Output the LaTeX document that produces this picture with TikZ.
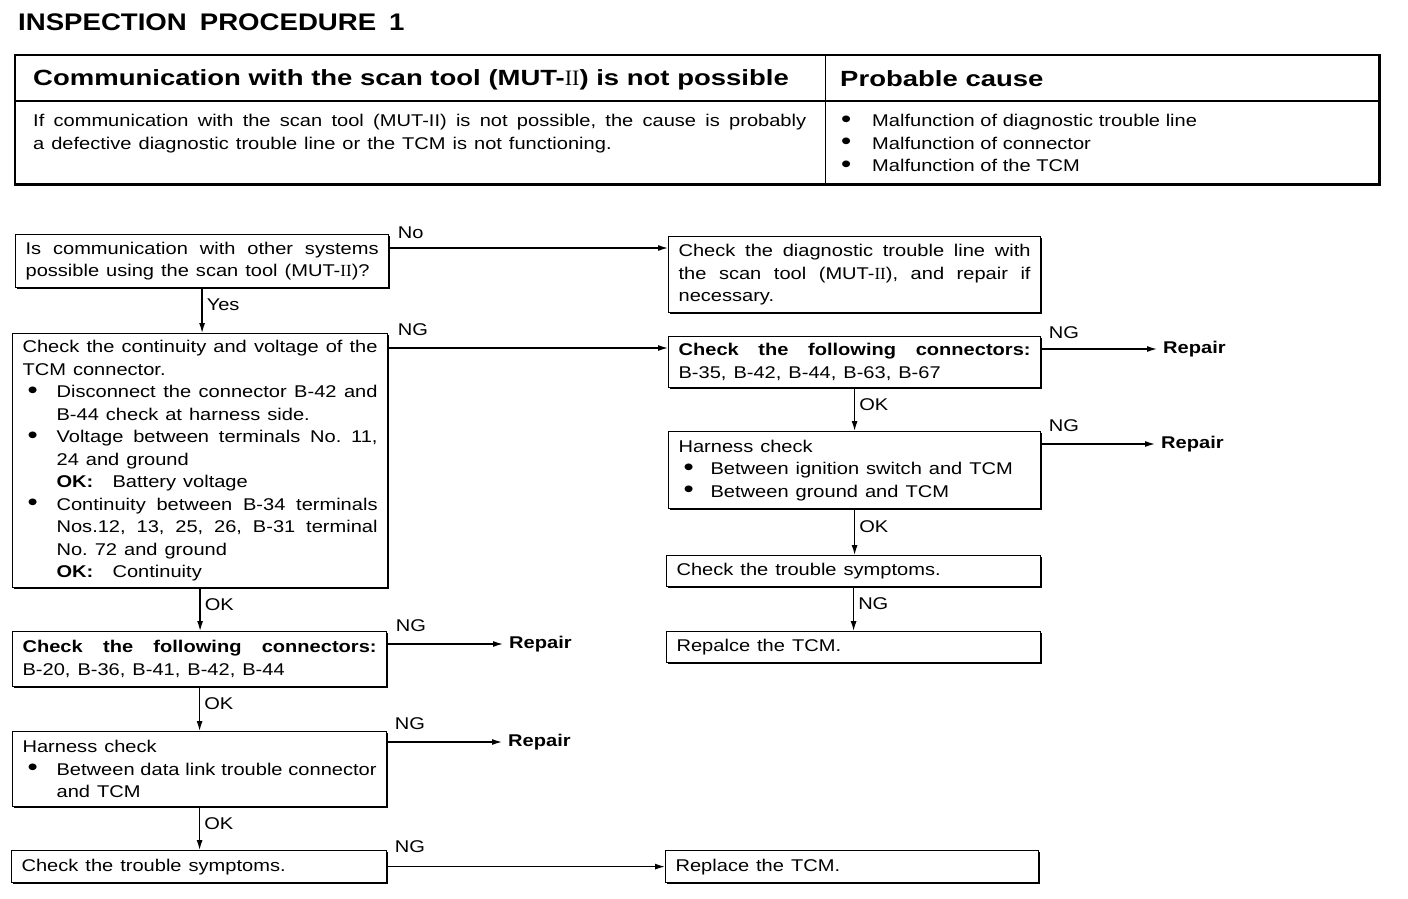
\documentclass[tikz,border=0pt]{standalone}
\usepackage{fontspec}
\setmainfont{Liberation Sans}[FakeStretch=1.18]
\newfontfamily\hdfont{Liberation Sans}[FakeStretch=1.25]
\newfontfamily\ttlfont{Liberation Sans}[FakeStretch=1.15]
\newfontfamily\serfont{Liberation Serif}
\usetikzlibrary{arrows.meta,shadows}
\frenchspacing
\newcommand{\rII}{{\serfont II}}
\newcommand{\bigbul}{\raisebox{-0.5pt}{\scalebox{1.45}{\textbullet}}}
\newcommand{\bodyfont}{\fontsize{17}{22.5}\selectfont\spaceskip=7pt plus 8pt minus 2pt\relax}
\newcommand{\bitem}{\par\noindent\hangindent=34pt\hangafter=1\makebox[34pt][l]{\hspace{5pt}\bigbul}}
\newcommand{\okline}[1]{\par\noindent\hspace*{34pt}\makebox[56pt][l]{\textbf{OK:}}#1}
\tikzset{
  box/.style={draw, line width=1.2pt, fill=white,
    general shadow={fill=black, shadow xshift=1.5pt, shadow yshift=-1.8pt},
    inner xsep=10pt, inner ysep=0pt, align=justify, anchor=north west, font=\bodyfont},
  arr/.style={line width=1.3pt, -{Latex[length=10pt,width=6pt]}},
  lbl/.style={font=\bodyfont, inner sep=0pt},
  rep/.style={font=\bodyfont\bfseries, inner xsep=6pt, inner ysep=0pt, anchor=west},
  tbl/.style={inner sep=0pt, font=\bodyfont}
}
\begin{document}
\begin{tikzpicture}[x=1pt,y=-1pt]
\useasboundingbox (0,0) rectangle (1408,898);

% title
\node[anchor=base west, inner sep=0pt, font=\ttlfont\bfseries\fontsize{24}{28}\selectfont] (title) at (18,30)
  {INSPECTION\hspace{13pt}PROCEDURE\hspace{13pt}1};

% table
\draw[line width=2.2pt] (15,55) rectangle (1380,185);
\draw[line width=3pt] (14,184) -- (1381,184);
\draw[line width=3pt] (1379.5,54) -- (1379.5,185);
\draw[line width=1.2pt] (15,101) -- (1380,101);
\draw[line width=1pt] (825,55) -- (825,185);
\node[anchor=base west, inner sep=0pt, font=\hdfont\bfseries\fontsize{22}{26}\selectfont] (th1) at (33,85)
  {Communication with the scan tool (MUT-{\serfont\mdseries II}) is not possible};
\node[anchor=base west, inner sep=0pt, font=\hdfont\bfseries\fontsize{22}{26}\selectfont] (th2) at (840,86)
  {Probable cause};
\node[tbl, anchor=north west, text width=773pt, align=justify] (tb1) at (33,114)
  {If communication with the scan tool (MUT-II) is not possible, the cause is probably\linebreak a defective diagnostic trouble line or the TCM is not functioning.};
\node[tbl, anchor=north west, text width=530pt, align=left] (tb2) at (840,114)
  {\makebox[32pt][l]{\hspace{1pt}\bigbul}Malfunction of diagnostic trouble line\\
   \makebox[32pt][l]{\hspace{1pt}\bigbul}Malfunction of connector\\
   \makebox[32pt][l]{\hspace{1pt}\bigbul}Malfunction of the TCM};

% left column
\node[box, text width=353pt, minimum height=53pt] (A) at (15,234)
  {Is communication with other systems\linebreak possible using the scan tool (MUT-\rII)?\par};
\node[box, text width=355pt, minimum height=254pt] (B) at (12,333)
  {Check the continuity and voltage of the\linebreak TCM connector.
   \bitem Disconnect the connector B-42 and\linebreak B-44 check at harness side.
   \bitem Voltage between terminals No. 11,\linebreak 24 and ground
   \okline{Battery voltage}
   \bitem Continuity between B-34 terminals\linebreak Nos.12, 13, 25, 26, B-31 terminal\linebreak No. 72 and ground
   \okline{Continuity}\par};
\node[box, text width=354pt, minimum height=55pt] (H) at (12,631)
  {\textbf{Check the following connectors:}\linebreak B-20, B-36, B-41, B-42, B-44\par};
\node[box, text width=354pt, minimum height=75pt] (I) at (12,731)
  {Harness check
   \bitem Between data link trouble connector\linebreak and TCM\par};
\node[box, text width=355pt, minimum height=32pt] (J) at (11,850)
  {Check the trouble symptoms.};

% right column
\node[box, text width=352pt, minimum height=76pt] (C) at (668,236)
  {Check the diagnostic trouble line with\linebreak the scan tool (MUT-\rII), and repair if\linebreak necessary.\par};
\node[box, text width=352pt, minimum height=51pt] (D) at (668,336)
  {\textbf{Check the following connectors:}\linebreak B-35, B-42, B-44, B-63, B-67\par};
\node[box, text width=352pt, minimum height=77pt] (E) at (668,431)
  {Harness check
   \par\noindent\hangindent=32pt\hangafter=1\makebox[32pt][l]{\hspace{5pt}\bigbul}Between ignition switch and TCM
   \par\noindent\hangindent=32pt\hangafter=1\makebox[32pt][l]{\hspace{5pt}\bigbul}Between ground and TCM\par};
\node[box, text width=354pt, minimum height=31pt] (F) at (666,555)
  {Check the trouble symptoms.};
\node[box, text width=354pt, minimum height=31pt] (G) at (666,631)
  {Repalce the TCM.};
\node[box, text width=353pt, minimum height=32pt] (K) at (665,850)
  {Replace the TCM.};

% repair targets
\node[rep] (RD) at (1157,349) {Repair};
\node[rep] (RE) at (1155,444) {Repair};
\node[rep] (RH) at (503,644) {Repair};
\node[rep] (RI) at (502,742) {Repair};

% horizontal connectors
\coordinate (a1) at ([yshift=-14pt]A.north east);
\draw[arr] (a1) -- (a1 -| C.west)
  node[lbl, pos=0, anchor=south west, xshift=8pt, yshift=9pt] {No};
\coordinate (b1) at ([yshift=-15pt]B.north east);
\draw[arr] (b1) -- (b1 -| D.west)
  node[lbl, pos=0, anchor=south west, xshift=9pt, yshift=12pt] {NG};
\draw[arr] (RD.west -| D.east) -- (RD.west)
  node[lbl, pos=0, anchor=south west, xshift=7pt, yshift=10pt] {NG};
\draw[arr] (RE.west -| E.east) -- (RE.west)
  node[lbl, pos=0, anchor=south west, xshift=7pt, yshift=12pt] {NG};
\draw[arr] (RH.west -| H.east) -- (RH.west)
  node[lbl, pos=0, anchor=south west, xshift=8pt, yshift=12pt] {NG};
\draw[arr] (RI.west -| I.east) -- (RI.west)
  node[lbl, pos=0, anchor=south west, xshift=7pt, yshift=12pt] {NG};
\draw[arr] (J.east) -- (J.east -| K.west)
  node[lbl, pos=0, anchor=south west, xshift=7pt, yshift=13pt] {NG};

% vertical connectors
\draw[arr] (A.south) -- (A.south |- B.north)
  node[lbl, pos=.38, anchor=west, xshift=4pt] {Yes};
\draw[arr] (B.south) -- (B.south |- H.north)
  node[lbl, pos=.38, anchor=west, xshift=4pt] {OK};
\draw[arr] (H.south) -- (H.south |- I.north)
  node[lbl, pos=.38, anchor=west, xshift=4pt] {OK};
\draw[arr] (I.south) -- (I.south |- J.north)
  node[lbl, pos=.38, anchor=west, xshift=4pt] {OK};
\draw[arr] (D.south) -- (D.south |- E.north)
  node[lbl, pos=.38, anchor=west, xshift=4pt] {OK};
\draw[arr] (E.south) -- (E.south |- F.north)
  node[lbl, pos=.38, anchor=west, xshift=4pt] {OK};
\draw[arr] (F.south) -- (F.south |- G.north)
  node[lbl, pos=.38, anchor=west, xshift=4pt] {NG};
\end{tikzpicture}
\end{document}
